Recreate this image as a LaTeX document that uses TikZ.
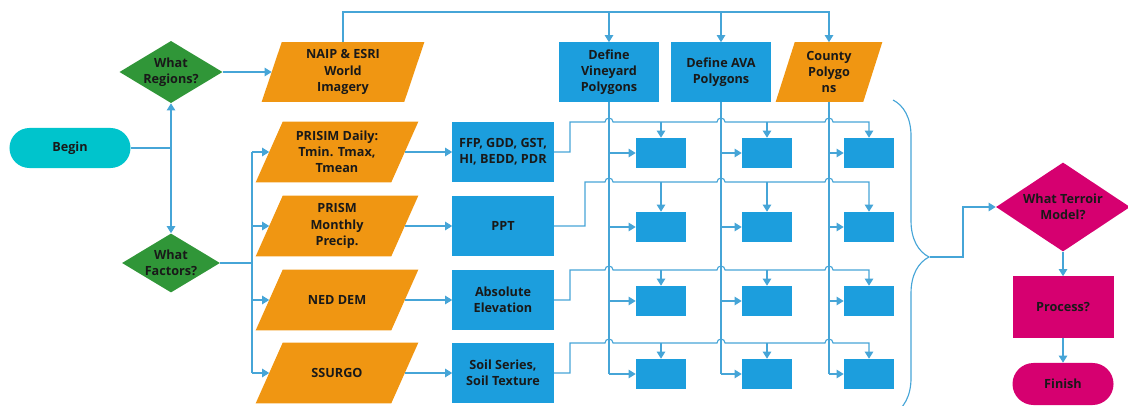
\documentclass[tikz,border=0pt]{standalone}
\usepackage{fontspec}
\setmainfont{Open Sans}
\usetikzlibrary{shapes.geometric,arrows.meta,calc,decorations.pathreplacing}
\pgfdeclarelayer{background}
\pgfsetlayers{background,main}
\definecolor{floworange}{RGB}{240,150,18}
\definecolor{flowblue}{RGB}{28,158,221}
\definecolor{flowgreen}{RGB}{48,150,56}
\definecolor{flowteal}{RGB}{0,196,204}
\definecolor{flowpink}{RGB}{214,0,112}
\definecolor{flowline}{RGB}{70,165,215}
\begin{document}
\begin{tikzpicture}[x=0.025cm,y=-0.025cm,
    font=\fontsize{9}{11.5}\selectfont\bfseries,
    every node/.style={text=black!90,align=center,inner sep=0pt},
    termstyle/.style={rounded corners=0.5cm,minimum width=2.525cm,minimum height=1cm},
    decstyle/.style={diamond,aspect=1.66,minimum width=2.45cm,minimum height=1.475cm,fill=flowgreen},
    datastyle/.style={rectangle,minimum width=3.375cm,minimum height=1.5cm},
    boxstyle/.style={rectangle,fill=flowblue,minimum width=2.525cm,minimum height=1.5cm},
    cellstyle/.style={rectangle,fill=flowblue,minimum width=1.25cm,minimum height=0.75cm},
    linkstyle/.style={draw=flowline,line width=0.8pt},
    arrowstyle/.style={linkstyle,-{Triangle[width=6pt,length=5pt]}}]
\useasboundingbox (0,0) rectangle (1128,406);

\node[termstyle,fill=flowteal,minimum width=3.025cm] (begin) at (70,148) {Begin};
\node[decstyle] (reg) at (171,72) {What\\Regions?};
\node[decstyle] (fac) at (171,263) {What\\Factors?};

\node[datastyle,minimum width=3.55cm,minimum height=1.475cm] (naip) at (343,72) {NAIP \& ESRI\\World\\Imagery};
\node[boxstyle,minimum width=2.5cm,minimum height=1.475cm] (vin) at (609,72) {Define\\Vineyard\\Polygons};
\node[boxstyle,minimum width=2.5cm,minimum height=1.475cm] (ava) at (721,72) {Define AVA\\Polygons};
\node[datastyle,minimum width=2.175cm,minimum height=1.475cm] (cty) at (829,72) {County\\Polygo\\ns};

\node[datastyle] (p1) at (337,152) {PRISIM Daily:\\Tmin. Tmax,\\Tmean};
\node[datastyle] (p2) at (337,226) {PRISM\\Monthly\\Precip.};
\node[datastyle] (p3) at (337,300) {NED DEM};
\node[datastyle] (p4) at (337,373) {SSURGO};

\begin{pgfonlayer}{background}
\foreach \n/\s in {naip/10,cty/9.5,p1/13.5,p2/13.5,p3/13.5,p4/13.5}
  \fill[floworange] ($(\n.south west)+(-\s,0)$) -- ($(\n.south east)+(-\s,0)$)
    -- ($(\n.north east)+(\s,0)$) -- ($(\n.north west)+(\s,0)$) -- cycle;
\end{pgfonlayer}

\node[boxstyle] (m1) at (503,152) {FFP, GDD, GST,\\HI, BEDD, PDR};
\node[boxstyle] (m2) at (503,226) {PPT};
\node[boxstyle] (m3) at (503,300) {Absolute\\Elevation};
\node[boxstyle] (m4) at (503,373) {Soil Series,\\Soil Texture};

\foreach \i/\y in {1/153,2/227,3/301,4/374}
  \foreach \j/\x in {1/661,2/767,3/869}
    \node[cellstyle] (c\i\j) at (\x,\y) {};

\node[diamond,aspect=1.5,minimum width=3.35cm,minimum height=2.225cm,fill=flowpink] (ter) at (1063,207) {What Terroir\\Model?};
\node[rectangle,fill=flowpink,minimum width=2.525cm,minimum height=1.525cm] (proc) at (1063,307) {Process?};
\node[termstyle,fill=flowpink,minimum height=1.05cm,rounded corners=0.525cm] (fin) at (1063,384) {Finish};

\coordinate (j1) at (begin.east -| reg.south);
\draw[linkstyle] (begin.east) -- (j1);
\draw[arrowstyle] (j1) -- (reg.south);
\draw[arrowstyle] (j1) -- (fac.north);
\draw[arrowstyle] (reg.east) -- (naip.west);

\coordinate (top) at (829,12);
\draw[arrowstyle] (naip.north) |- (top) -- (cty.north);
\draw[arrowstyle] (vin.north |- top) -- (vin.north);
\draw[arrowstyle] (ava.north |- top) -- (ava.north);

\coordinate (fb) at (252,263);
\draw[linkstyle] (fac.east) -- (fb);
\draw[linkstyle] (fb |- p1.west) -- (fb |- p4.west);
\foreach \i in {1,...,4} {
  \draw[arrowstyle] (fb |- p\i.west) -- (p\i.west);
  \draw[arrowstyle] (p\i.east) -- (m\i.west);
}

\foreach \s/\j in {vin/1,ava/2,cty/3} {
  \draw[linkstyle] (\s.south) -- (\s.south |- c4\j.west);
  \foreach \i in {1,...,4}
    \draw[arrowstyle] (\s.south |- c\i\j.west) -- (c\i\j.west);
}

\foreach \i/\b/\e in {1/122/570,2/182/585,3/270/570,4/343/570} {
  \coordinate (b\i) at (\e,\b);
  \draw[arrowstyle] (m\i.east) -| (b\i)
    -- ($(vin.south |- b\i)+(-4,0)$) arc[start angle=180,end angle=0,radius=0.1cm]
    -- ($(ava.south |- b\i)+(-4,0)$) arc[start angle=180,end angle=0,radius=0.1cm]
    -- ($(cty.south |- b\i)+(-4,0)$) arc[start angle=180,end angle=0,radius=0.1cm]
    -| (c\i3.north);
  \draw[arrowstyle] (c\i1.north |- b\i) -- (c\i1.north);
  \draw[arrowstyle] (c\i2.north |- b\i) -- (c\i2.north);
}

\draw[linkstyle,decorate,decoration={brace,amplitude=0.9cm}] (893,100) -- (893,414);
\coordinate (tip) at (930,257);
\draw[arrowstyle] (tip) -- ($(tip)+(33,0)$) |- (ter.west);
\draw[arrowstyle] (ter.south) -- (proc.north);
\draw[arrowstyle] (proc.south) -- (fin.north);
\end{tikzpicture}
\end{document}
